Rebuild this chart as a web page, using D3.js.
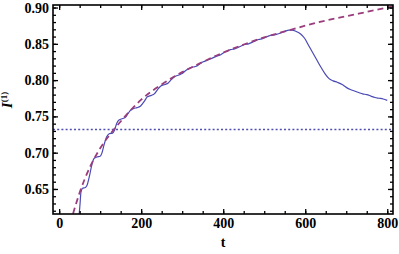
<!DOCTYPE html>
<html>
<head>
<meta charset="utf-8">
<script src="https://cdn.jsdelivr.net/npm/d3@7"></script>
<style>
  body { margin: 0; background: #fff; }
</style>
</head>
<body>
<svg id="chart" width="399" height="254" font-family="Liberation Serif"></svg>
<script>
var simT = [49, 51, 53, 57, 64, 68, 74, 80, 85, 92, 100, 104, 110, 116, 122, 130, 135, 140, 146, 155, 162, 168, 175, 182,
  190, 198, 208, 215, 225, 232, 240, 248, 258, 266, 274, 282, 292, 300, 308, 316, 326, 334, 342, 350, 360, 368, 376, 384,
  394, 402, 410, 418, 428, 436, 444, 452, 462, 470, 478, 486, 496, 504, 512, 520, 530, 540, 550, 560, 568,
  578, 588, 598, 608, 618, 628, 638, 648, 658, 668, 678, 690, 700, 710, 720, 730, 740, 750, 760, 770, 780, 790, 800];
var simI = [0.616, 0.630, 0.645, 0.651, 0.652, 0.655, 0.668, 0.684, 0.692, 0.694, 0.695, 0.699, 0.712, 0.722, 0.726, 0.727, 0.731, 0.740, 0.745, 0.747, 0.749, 0.754, 0.759, 0.761,
  0.762, 0.764, 0.771, 0.777, 0.779, 0.781, 0.787, 0.792, 0.794, 0.796, 0.801, 0.805, 0.807, 0.809, 0.813, 0.816, 0.818, 0.819, 0.822, 0.825, 0.827, 0.829, 0.831, 0.833,
  0.835, 0.838, 0.840, 0.842, 0.843, 0.845, 0.847, 0.849, 0.850, 0.852, 0.854, 0.856, 0.857, 0.859, 0.861, 0.862, 0.863, 0.865, 0.867, 0.869, 0.869,
  0.867, 0.864, 0.858, 0.848, 0.838, 0.828, 0.818, 0.809, 0.802, 0.799, 0.797, 0.794, 0.790, 0.787, 0.785, 0.783, 0.781, 0.780, 0.778, 0.776, 0.775, 0.774, 0.772];

var fitT = [34, 50, 75, 100, 125, 150, 200, 250, 300, 350, 400, 450, 500, 550, 600, 650, 700, 750, 800, 815];
var fitI = [0.616, 0.645, 0.680, 0.706, 0.726, 0.743, 0.773, 0.794, 0.811, 0.825, 0.838, 0.849, 0.859, 0.867, 0.875, 0.882, 0.888, 0.894, 0.900, 0.902];

var levelI = 0.732;

var xTicks = [0, 200, 400, 600, 800];
var yTicks = [0.65, 0.70, 0.75, 0.80, 0.85, 0.90];

var serif = 'Liberation Serif';

var margin = {left: 53, right: 6, top: 5, bottom: 40};
var W = 399, H = 254;

var svg = d3.select('#chart');

var x = d3.scaleLinear().domain([-15, 814]).range([margin.left, W - margin.right]);
var y = d3.scaleLinear().domain([0.6155, 0.9035]).range([H - margin.bottom, margin.top]);

svg.append('clipPath').attr('id', 'plotclip')
  .append('rect')
  .attr('x', margin.left).attr('y', margin.top)
  .attr('width', W - margin.left - margin.right)
  .attr('height', H - margin.top - margin.bottom);

var plot = svg.append('g').attr('clip-path', 'url(#plotclip)');

var line = d3.line()
  .x(function(d) { return x(d[0]); })
  .y(function(d) { return y(d[1]); })
  .curve(d3.curveMonotoneX);

// horizontal level
plot.append('line')
  .attr('x1', x(-15)).attr('x2', x(814))
  .attr('y1', y(levelI)).attr('y2', y(levelI))
  .attr('stroke', '#4f4fb3').attr('stroke-width', 1.4)
  .attr('stroke-dasharray', '2,2.2');

plot.append('path')
  .datum(d3.zip(simT, simI))
  .attr('d', line)
  .attr('fill', 'none')
  .attr('stroke', '#4a4ab5')
  .attr('stroke-width', 1.2);

plot.append('path')
  .datum(d3.zip(fitT, fitI))
  .attr('d', line)
  .attr('fill', 'none')
  .attr('stroke', '#9a3d7d')
  .attr('stroke-width', 1.8)
  .attr('stroke-dasharray', '6,4');

// frame ticks (inward, all sides)
var xMinor = d3.range(0, 801, 50);
var yMinor = d3.range(62, 91, 1).map(function(v) { return v / 100; });

svg.append('g').attr('transform', 'translate(0,' + (H - margin.bottom) + ')')
  .call(d3.axisBottom(x).tickValues(xMinor).tickSize(-3).tickFormat(''));
svg.append('g').attr('transform', 'translate(0,' + margin.top + ')')
  .call(d3.axisTop(x).tickValues(xMinor).tickSize(-3).tickFormat(''));
svg.append('g').attr('transform', 'translate(' + margin.left + ',0)')
  .call(d3.axisLeft(y).tickValues(yMinor).tickSize(-3).tickFormat(''));
svg.append('g').attr('transform', 'translate(' + (W - margin.right) + ',0)')
  .call(d3.axisRight(y).tickValues(yMinor).tickSize(-3).tickFormat(''));

svg.append('g').attr('transform', 'translate(0,' + (H - margin.bottom) + ')')
  .call(d3.axisBottom(x).tickValues(xTicks).tickSize(-5).tickPadding(4).tickFormat(d3.format('d')));
svg.append('g').attr('transform', 'translate(0,' + margin.top + ')')
  .call(d3.axisTop(x).tickValues(xTicks).tickSize(-5).tickFormat(''));
svg.append('g').attr('transform', 'translate(' + margin.left + ',0)')
  .call(d3.axisLeft(y).tickValues(yTicks).tickSize(-5).tickPadding(4).tickFormat(d3.format('.2f')));
svg.append('g').attr('transform', 'translate(' + (W - margin.right) + ',0)')
  .call(d3.axisRight(y).tickValues(yTicks).tickSize(-5).tickFormat(''));

svg.selectAll('.domain').remove();
svg.selectAll('g').attr('font-family', serif);
svg.selectAll('.tick line').attr('stroke', '#000').attr('stroke-width', 1.3);
svg.selectAll('.tick text')
  .attr('fill', '#000')
  .attr('font-family', serif)
  .attr('font-weight', 'bold')
  .attr('font-size', 14);

svg.append('rect')
  .attr('x', margin.left).attr('y', margin.top)
  .attr('width', W - margin.left - margin.right)
  .attr('height', H - margin.top - margin.bottom)
  .attr('fill', 'none').attr('stroke', '#000').attr('stroke-width', 1.6);

// axis labels
svg.append('text')
  .attr('x', x(400)).attr('y', 247)
  .attr('text-anchor', 'middle')
  .attr('font-family', serif)
  .attr('font-weight', 'bold')
  .attr('font-size', 14)
  .text('t');

var ylab = svg.append('text')
  .attr('transform', 'translate(12,100) rotate(-90)')
  .attr('text-anchor', 'middle')
  .attr('font-family', serif)
  .attr('font-weight', 'bold')
  .attr('font-size', 15);
ylab.append('tspan').attr('font-style', 'italic').text('I');
ylab.append('tspan').attr('dy', -5).attr('font-size', 9).text('(1)');
</script>
</body>
</html>
